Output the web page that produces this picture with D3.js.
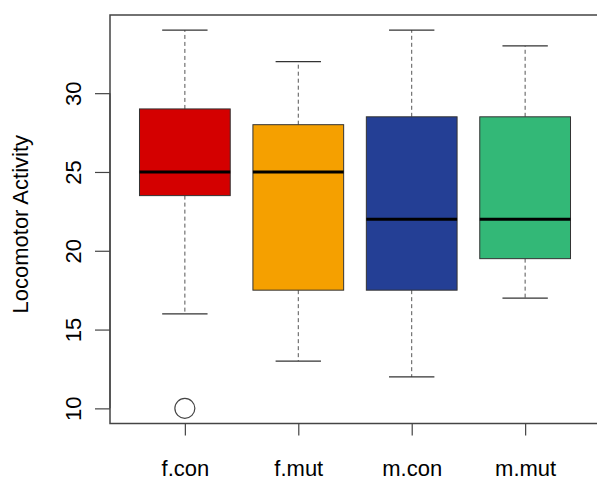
<!DOCTYPE html>
<html>
<head>
<meta charset="utf-8">
<script src="https://cdn.jsdelivr.net/npm/d3@7"></script>
<style>
  html, body { margin: 0; padding: 0; background: #fff; }
  svg { display: block; }
  text { font-family: "Liberation Sans", Arial, Helvetica, sans-serif; fill: #000; }
</style>
</head>
<body>
<svg id="chart" width="597" height="481"></svg>
<script>
// Groups and five-number summaries of locomotor activity
const groups     = ["f.con", "f.mut", "m.con", "m.mut"];
const lowWhisker = [16, 13, 12, 17];
const lowerQ     = [23.5, 17.5, 17.5, 19.5];
const medians    = [25, 25, 22, 22];
const upperQ     = [29, 28, 28.5, 28.5];
const highWhisker= [34, 32, 34, 33];
const outliers   = [{ group: 0, value: 10 }];
const fills      = ["#d40000", "#f5a000", "#243f95", "#33b877"];
const yTicks     = [10, 15, 20, 25, 30];
const yTitle     = "Locomotor Activity";

const svg = d3.select("#chart");
const plot = { left: 110, right: 600, top: 15, bottom: 423.5 };

// R-style 4% padding around the data range
const allVals = lowWhisker.concat(highWhisker, outliers.map(o => o.value));
const yLo = d3.min(allVals), yHi = d3.max(allVals);
const yPad = (yHi - yLo) * 0.04;
const y = d3.scaleLinear().domain([yLo - yPad, yHi + yPad]).range([plot.bottom, plot.top]);
const xPad = (groups.length) * 0.04;
const x = d3.scaleLinear().domain([0.5 - xPad, groups.length + 0.5 + xPad]).range([plot.left, plot.right]);

const boxW = x(1.4) - x(1);   // half-width of a box (0.8 units wide)
const capW = boxW / 2;

const boxes = groups.map((g, i) => ({
  i, name: g, lo: lowWhisker[i], q1: lowerQ[i], med: medians[i], q3: upperQ[i], hi: highWhisker[i], fill: fills[i]
}));

const gB = svg.append("g");
const b = gB.selectAll("g.box").data(boxes).join("g").attr("class", "box");

// dashed whiskers
b.append("line")
  .attr("x1", d => x(d.i + 1)).attr("x2", d => x(d.i + 1))
  .attr("y1", d => y(d.q3)).attr("y2", d => y(d.hi))
  .attr("stroke", "#555").attr("stroke-width", 1).attr("stroke-dasharray", "4,3");
b.append("line")
  .attr("x1", d => x(d.i + 1)).attr("x2", d => x(d.i + 1))
  .attr("y1", d => y(d.q1)).attr("y2", d => y(d.lo))
  .attr("stroke", "#555").attr("stroke-width", 1).attr("stroke-dasharray", "4,3");
// whisker caps
b.append("line")
  .attr("x1", d => x(d.i + 1) - capW).attr("x2", d => x(d.i + 1) + capW)
  .attr("y1", d => y(d.hi)).attr("y2", d => y(d.hi))
  .attr("stroke", "#333").attr("stroke-width", 1.2);
b.append("line")
  .attr("x1", d => x(d.i + 1) - capW).attr("x2", d => x(d.i + 1) + capW)
  .attr("y1", d => y(d.lo)).attr("y2", d => y(d.lo))
  .attr("stroke", "#333").attr("stroke-width", 1.2);
// boxes
b.append("rect")
  .attr("x", d => x(d.i + 1) - boxW).attr("width", 2 * boxW)
  .attr("y", d => y(d.q3)).attr("height", d => y(d.q1) - y(d.q3))
  .attr("fill", d => d.fill).attr("stroke", "#333").attr("stroke-width", 1);
// medians
b.append("line")
  .attr("x1", d => x(d.i + 1) - boxW).attr("x2", d => x(d.i + 1) + boxW)
  .attr("y1", d => y(d.med)).attr("y2", d => y(d.med))
  .attr("stroke", "#000").attr("stroke-width", 3);

// outliers
svg.append("g").selectAll("circle").data(outliers).join("circle")
  .attr("cx", d => x(d.group + 1)).attr("cy", d => y(d.value)).attr("r", 10)
  .attr("fill", "none").attr("stroke", "#444").attr("stroke-width", 1.2);

// plot frame
svg.append("rect")
  .attr("x", plot.left).attr("y", plot.top)
  .attr("width", plot.right - plot.left).attr("height", plot.bottom - plot.top)
  .attr("fill", "none").attr("stroke", "#444").attr("stroke-width", 1.5);

// y axis
const yAxis = svg.append("g").attr("transform", `translate(${plot.left},0)`)
  .call(d3.axisLeft(y).tickValues(yTicks).tickSize(15).tickFormat(d3.format("d")));
yAxis.select(".domain").attr("stroke", "#444").attr("stroke-width", 1.2)
  .attr("d", `M0,${y(yTicks[0])}V${y(yTicks[yTicks.length - 1])}`);
yAxis.selectAll(".tick line").attr("stroke", "#444").attr("stroke-width", 1.2);
yAxis.selectAll(".tick text")
  .attr("x", null).attr("dy", null)
  .attr("text-anchor", "middle")
  .attr("transform", "translate(-29,0) rotate(-90)")
  .attr("y", 0)
  .style("font-size", "22px").style("fill", "#000");

// x axis
const xAxis = svg.append("g").attr("transform", `translate(0,${plot.bottom})`)
  .call(d3.axisBottom(x).tickValues(groups.map((g, i) => i + 1)).tickSize(12).tickFormat((d) => groups[d - 1]));
xAxis.select(".domain").attr("stroke", "#444").attr("stroke-width", 1.2)
  .attr("d", `M${x(1)},0H${x(groups.length)}`);
xAxis.selectAll(".tick line").attr("stroke", "#444").attr("stroke-width", 1.2);
xAxis.selectAll(".tick text")
  .attr("y", 52).attr("dy", null)
  .style("font-size", "22px").style("fill", "#000");

// y title
svg.append("text")
  .attr("transform", `translate(28,${(plot.top + plot.bottom) / 2 + 5}) rotate(-90)`)
  .attr("text-anchor", "middle")
  .style("font-size", "22px")
  .text(yTitle);
</script>
</body>
</html>
